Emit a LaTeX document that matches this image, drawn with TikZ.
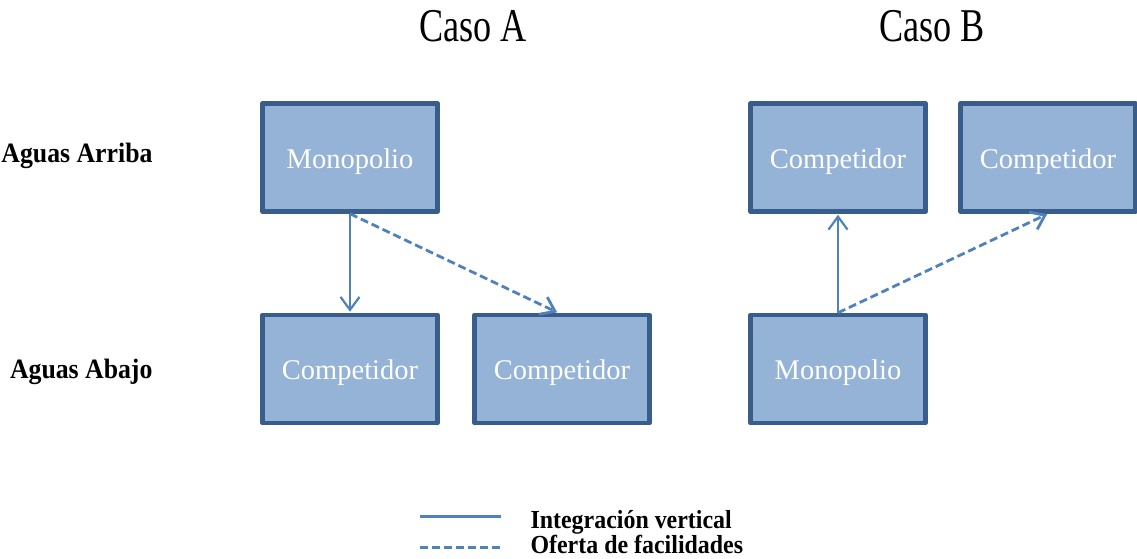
\documentclass[tikz,border=0pt]{standalone}
\usepackage{fontspec}
\setmainfont{Liberation Serif}
\newfontfamily\titulofont[FakeStretch=0.77]{Liberation Serif}
\newfontfamily\etiqfont[FakeStretch=0.92]{Liberation Serif}
\usetikzlibrary{arrows.meta}
\definecolor{cajafill}{HTML}{95B3D7}
\definecolor{cajaborde}{HTML}{385D8A}
\definecolor{flechacol}{HTML}{4F81BD}
\tikzset{
  caja/.style={draw=cajaborde, fill=cajafill, line width=4.5pt, minimum width=175pt,
    minimum height=108pt, inner sep=0pt, text height=24pt, text depth=3pt,
    text=white, font=\fontsize{28.5}{30}\selectfont},
  flecha/.style={draw=flechacol, line width=2.2pt, -{Straight Barb[length=13pt,width=19pt]}, shorten >=1pt},
  flechadash/.style={flecha, line width=2.8pt, dash pattern=on 8pt off 4pt},
  titulo/.style={font=\titulofont\fontsize{47}{50}\selectfont, anchor=base},
  etiqueta/.style={font=\etiqfont\bfseries\fontsize{28}{30}\selectfont, anchor=base east},
  leyenda/.style={font=\etiqfont\bfseries\fontsize{26}{28}\selectfont, anchor=base west}
}
\begin{document}
\begin{tikzpicture}[x=1pt,y=-1pt,line join=round]
  \useasboundingbox (0,0) rectangle (1137,558);

  % Titulos
  \node[titulo] (casoA) at (473,41) {Caso A};
  \node[titulo] (casoB) at (932,41) {Caso B};

  % Niveles
  \node[etiqueta] (arriba) at (156,162) {Aguas Arriba};
  \node[etiqueta] (abajo) at (156,378) {Aguas Abajo};

  % Caso A
  \node[caja] (monoA) at (350,157.5) {Monopolio};
  \node[caja] (compA1) at (350,369) {Competidor};
  \node[caja] (compA2) at (562,369) {Competidor};
  \draw[flecha] (monoA.south) -- (compA1.north);
  \draw[flechadash] (monoA.south) -- ([xshift=-4pt]compA2.north);

  % Caso B
  \node[caja] (compB1) at (838,157.5) {Competidor};
  \node[caja] (compB2) at (1048,157.5) {Competidor};
  \node[caja] (monoB) at (838,369) {Monopolio};
  \draw[flecha] (monoB.north) -- (compB1.south);
  \draw[flechadash] (monoB.north) -- (compB2.south);

  % Leyenda
  \coordinate (ley1a) at (420,516); \coordinate (ley1b) at (501,516);
  \coordinate (ley2a) at (420,547); \coordinate (ley2b) at (501,547);
  \draw[draw=flechacol, line width=3pt] (ley1a) -- (ley1b);
  \draw[draw=flechacol, line width=3pt, dash pattern=on 8pt off 4pt] (ley2a) -- (ley2b);
  \node[leyenda] (ley1) at (527,528) {Integración vertical};
  \node[leyenda] (ley2) at (527,553) {Oferta de facilidades};
\end{tikzpicture}
\end{document}
